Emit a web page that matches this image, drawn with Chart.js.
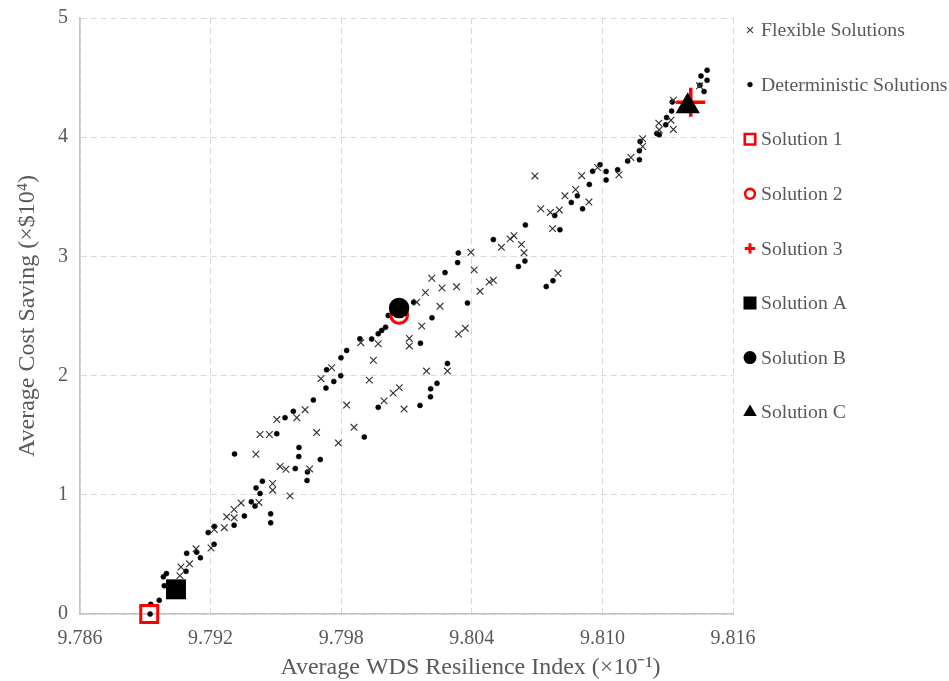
<!DOCTYPE html>
<html>
<head>
<meta charset="utf-8">
<script src="https://cdn.jsdelivr.net/npm/chart.js@4.4.1/dist/chart.umd.min.js"></script>
<style>
html,body{margin:0;padding:0;background:#fff;overflow:hidden}
#wrap{position:relative;width:949px;height:681px}
</style>
</head>
<body>
<div id="wrap"><canvas id="c"></canvas></div>
<script>
// ---- tick labels / titles ----
const xTickValues = [9.786, 9.792, 9.798, 9.804, 9.810, 9.816];
const yTickValues = [0, 1, 2, 3, 4, 5];
const xAxisTitle = 'Average WDS Resilience Index (×10⁻¹)';
const yAxisTitle = 'Average Cost Saving (×$10⁴)';
const seriesLabels = ['Flexible Solutions', 'Deterministic Solutions', 'Solution 1', 'Solution 2', 'Solution 3', 'Solution A', 'Solution B', 'Solution C'];

// ---- series values ----
const flexibleX = [9.79059, 9.79064, 9.79103, 9.79133, 9.79202, 9.79217, 9.79263, 9.79274, 9.79308, 9.79308, 9.7934, 9.79422, 9.79485, 9.79485, 9.79565, 9.79408, 9.79427, 9.7947, 9.79504, 9.79519, 9.79546, 9.79655, 9.79596, 9.79634, 9.79687, 9.79787, 9.79859, 9.79825, 9.79707, 9.79756, 9.7989, 9.7997, 9.79948, 9.79929, 9.79997, 9.80039, 9.80067, 9.80089, 9.80113, 9.80113, 9.8017, 9.80147, 9.80187, 9.80216, 9.80254, 9.80263, 9.8033, 9.80192, 9.80288, 9.80339, 9.8037, 9.80396, 9.80411, 9.80438, 9.8048, 9.80499, 9.80536, 9.80576, 9.80594, 9.80628, 9.8064, 9.8069, 9.80717, 9.80761, 9.80802, 9.80771, 9.80796, 9.80828, 9.80877, 9.80905, 9.80938, 9.80978, 9.81076, 9.81131, 9.81185, 9.81185, 9.81259, 9.81261, 9.81315, 9.81326, 9.81326, 9.81446];
const flexibleY = [0.322, 0.394, 0.421, 0.547, 0.554, 0.709, 0.724, 0.815, 0.807, 0.877, 0.932, 0.936, 1.039, 1.095, 0.991, 1.340, 1.506, 1.506, 1.631, 1.238, 1.214, 1.217, 1.647, 1.714, 1.522, 1.435, 1.566, 1.753, 1.974, 2.066, 2.276, 2.267, 2.129, 1.962, 1.788, 1.853, 1.899, 1.719, 2.312, 2.249, 2.415, 2.616, 2.697, 2.817, 2.581, 2.735, 2.745, 2.038, 2.038, 2.348, 2.398, 3.034, 2.887, 2.707, 2.785, 2.800, 3.076, 3.147, 3.174, 3.101, 3.030, 3.675, 3.400, 3.369, 3.390, 3.233, 2.858, 3.508, 3.561, 3.677, 3.456, 3.746, 3.685, 3.830, 3.987, 3.922, 4.118, 4.062, 4.143, 4.065, 4.311, 4.431];

const deterministicX = [9.78922, 9.78925, 9.78964, 9.78987, 9.78983, 9.78997, 9.79087, 9.7909, 9.79136, 9.79153, 9.79189, 9.79217, 9.79216, 9.79308, 9.79355, 9.79387, 9.79404, 9.79409, 9.79427, 9.79438, 9.79476, 9.79476, 9.7931, 9.79504, 9.79542, 9.7958, 9.79606, 9.79605, 9.79704, 9.79589, 9.79645, 9.79643, 9.79672, 9.7973, 9.79766, 9.79798, 9.79733, 9.79799, 9.79825, 9.79886, 9.7994, 9.7997, 9.79986, 9.80004, 9.80016, 9.79906, 9.7997, 9.80133, 9.80217, 9.80164, 9.80162, 9.8021, 9.80211, 9.8024, 9.80288, 9.80277, 9.80338, 9.80335, 9.8038, 9.80499, 9.80614, 9.80644, 9.80646, 9.80742, 9.80773, 9.80781, 9.80805, 9.80857, 9.80885, 9.80909, 9.8094, 9.80955, 9.80989, 9.81017, 9.81017, 9.8107, 9.81116, 9.8117, 9.8117, 9.81173, 9.8125, 9.81261, 9.81291, 9.81295, 9.81318, 9.81321, 9.81448, 9.81467, 9.81453, 9.81481, 9.81481];
const deterministicY = [0.0, 0.081, 0.115, 0.237, 0.312, 0.339, 0.358, 0.509, 0.519, 0.472, 0.683, 0.735, 0.585, 0.745, 0.823, 0.941, 0.905, 1.058, 1.011, 1.114, 0.840, 0.765, 1.343, 1.513, 1.647, 1.700, 1.397, 1.321, 1.296, 1.220, 1.192, 1.120, 1.795, 1.895, 1.951, 1.999, 2.049, 2.150, 2.211, 2.309, 2.307, 2.351, 2.379, 2.406, 2.504, 1.485, 1.734, 2.616, 2.485, 2.272, 1.750, 1.822, 1.889, 1.935, 2.102, 2.864, 3.029, 2.948, 2.609, 3.141, 2.915, 2.961, 3.264, 2.747, 2.796, 3.343, 3.224, 3.453, 3.509, 3.399, 3.604, 3.714, 3.769, 3.713, 3.641, 3.727, 3.800, 3.811, 3.886, 3.964, 4.031, 4.020, 4.104, 4.165, 4.219, 4.296, 4.436, 4.383, 4.514, 4.562, 4.478];

const solution1X = [9.78918]; const solution1Y = [0.0];
const solution2X = [9.80066]; const solution2Y = [2.510];
const solution3X = [9.81406]; const solution3Y = [4.294];
const solutionAX = [9.79041]; const solutionAY = [0.207];
const solutionBX = [9.80066]; const solutionBY = [2.567];
const solutionCX = [9.81392]; const solutionCY = [4.259];

// ---- build ----
const pts = (xs, ys) => xs.map((x, i) => ({x: x, y: ys[i]}));
const FONT = '"Liberation Serif", "Times New Roman", serif';
const TXT = '#595959';
const RED = '#ff0000';

function ds(label, data, style, r, fill, stroke, bw, order, legendR, legendBw) {
  return {
    label: label, data: data, pointStyle: style, pointRadius: r, pointHoverRadius: r,
    pointBackgroundColor: fill, pointBorderColor: stroke, pointBorderWidth: bw,
    pointHoverBorderWidth: bw, backgroundColor: fill, borderColor: stroke,
    showLine: false, clip: false, order: order, legendR: legendR, legendBw: legendBw
  };
}

const datasets = [
  ds(seriesLabels[0], pts(flexibleX, flexibleY), 'crossRot', 4.7, 'rgba(0,0,0,0)', '#333333', 1.15, 2, 4.2, 1.1),
  ds(seriesLabels[1], pts(deterministicX, deterministicY), 'circle', 2.5, '#000000', '#000000', 0.6, 2, 2.4, 0.6),
  ds(seriesLabels[2], pts(solution1X, solution1Y), 'rect', 12, 'rgba(0,0,0,0)', RED, 3, 1, 7.4, 2.6),
  ds(seriesLabels[3], pts(solution2X, solution2Y), 'circle', 8.5, 'rgba(0,0,0,0)', RED, 3, 1, 4.9, 2.6),
  ds(seriesLabels[4], pts(solution3X, solution3Y), 'cross', 14.5, RED, RED, 3.5, 1, 5.2, 3),
  ds(seriesLabels[5], pts(solutionAX, solutionAY), 'rect', 14.1, '#000000', '#000000', 0, 0, 9.2, 0),
  ds(seriesLabels[6], pts(solutionBX, solutionBY), 'circle', 10.3, '#000000', '#000000', 0, 0, 6.5, 0),
  ds(seriesLabels[7], pts(solutionCX, solutionCY), 'triangle', 14, '#000000', '#000000', 0, 0, 7.8, 0)
];

function fallbackPoint(ctx, style, r, x, y) {
  ctx.beginPath();
  if (style === 'circle') { ctx.arc(x, y, r, 0, Math.PI * 2); }
  else if (style === 'rect') { const s = r * Math.SQRT1_2; ctx.rect(x - s, y - s, 2 * s, 2 * s); }
  else if (style === 'triangle') {
    ctx.moveTo(x, y - r); ctx.lineTo(x + r * 0.866, y + r / 2); ctx.lineTo(x - r * 0.866, y + r / 2); ctx.closePath();
  } else if (style === 'cross') { ctx.moveTo(x - r, y); ctx.lineTo(x + r, y); ctx.moveTo(x, y - r); ctx.lineTo(x, y + r); }
  else if (style === 'crossRot') { const o = r * Math.SQRT1_2; ctx.moveTo(x - o, y - o); ctx.lineTo(x + o, y + o); ctx.moveTo(x - o, y + o); ctx.lineTo(x + o, y - o); }
  ctx.fill();
  ctx.stroke();
}

const sideLegend = {
  id: 'sideLegend',
  afterDraw(chart) {
    const ctx = chart.ctx, ca = chart.chartArea;
    const mx = ca.right + 17, tx = ca.right + 28;
    ctx.save();
    ctx.setLineDash([]);
    chart.data.datasets.forEach((d, i) => {
      const y = ca.top + 12 + i * 54.6;
      ctx.fillStyle = d.pointBackgroundColor;
      ctx.strokeStyle = d.pointBorderColor;
      ctx.lineWidth = d.legendBw;
      const opts = {pointStyle: d.pointStyle, radius: d.legendR, borderWidth: d.legendBw, rotation: 0};
      if (Chart.helpers && Chart.helpers.drawPoint) {
        Chart.helpers.drawPoint(ctx, opts, mx, y);
      } else {
        fallbackPoint(ctx, d.pointStyle, d.legendR, mx, y);
      }
      ctx.fillStyle = TXT;
      ctx.font = '19.7px ' + FONT;
      ctx.textAlign = 'left';
      ctx.textBaseline = 'middle';
      ctx.fillText(d.label, tx, y + 1);
    });
    ctx.restore();
  }
};

const xTitle = {
  id: 'xTitle',
  afterDraw(chart) {
    const ctx = chart.ctx, ca = chart.chartArea;
    ctx.save();
    ctx.fillStyle = TXT;
    ctx.font = '24px ' + FONT;
    ctx.textAlign = 'center';
    ctx.textBaseline = 'middle';
    ctx.fillText(xAxisTitle, ca.left + (ca.right - ca.left) * 0.598, ca.bottom + 54);
    ctx.restore();
  }
};

new Chart(document.getElementById('c'), {
  type: 'scatter',
  data: {datasets: datasets},
  plugins: [sideLegend, xTitle],
  options: {
    responsive: true,
    maintainAspectRatio: false,
    devicePixelRatio: 1,
    animation: false,
    events: [],
    layout: {padding: {top: 17, right: 216, bottom: 0, left: 0}},
    plugins: {legend: {display: false}, tooltip: {enabled: false}, title: {display: false}},
    scales: {
      x: {
        type: 'linear', min: xTickValues[0], max: xTickValues[xTickValues.length - 1],
        afterBuildTicks: (axis) => { axis.ticks = xTickValues.map(v => ({value: v})); },
        afterFit: (axis) => { axis.height = 67; axis.paddingLeft = 0; axis.paddingRight = 0; },
        ticks: {callback: (v) => Number(v).toFixed(3), color: TXT, font: {family: FONT, size: 20}, padding: 13, maxRotation: 0, autoSkip: false},
        grid: {color: '#d9d9d9', lineWidth: 1, drawTicks: false},
        border: {display: true, color: '#c4c4c4', width: 1.6, dash: [6, 4]}
      },
      y: {
        type: 'linear', min: yTickValues[0], max: yTickValues[yTickValues.length - 1],
        afterBuildTicks: (axis) => { axis.ticks = yTickValues.map(v => ({value: v})); },
        afterFit: (axis) => { axis.width = 80; axis.paddingTop = 0; axis.paddingBottom = 0; },
        ticks: {callback: (v) => String(v), color: TXT, font: {family: FONT, size: 20}, padding: 12},
        grid: {color: '#d9d9d9', lineWidth: 1, drawTicks: false},
        border: {display: true, color: '#c4c4c4', width: 1.6, dash: [6, 4]},
        title: {display: true, text: yAxisTitle, color: TXT, font: {family: FONT, size: 24}, padding: {top: 13, bottom: 0}}
      }
    }
  }
});
</script>
</body>
</html>
